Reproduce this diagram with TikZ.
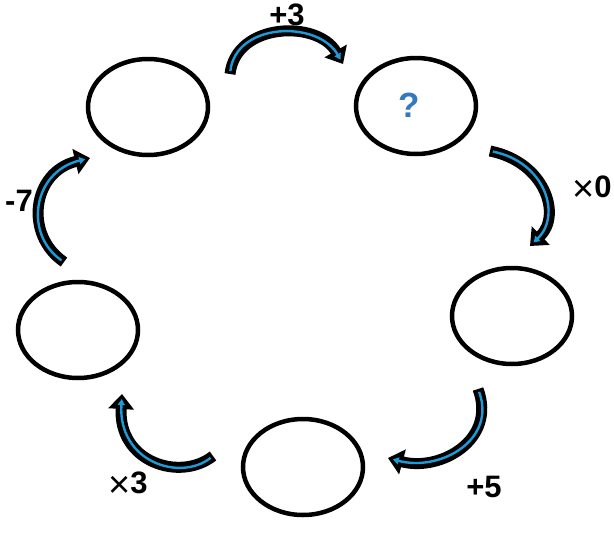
\documentclass[tikz,border=0pt]{standalone}
\usepackage{fontspec}
\setmainfont{Liberation Sans}
\usetikzlibrary{shapes.geometric,arrows.meta}
\definecolor{arrblue}{RGB}{27,155,215}
\definecolor{qblue}{RGB}{52,120,190}
\newcommand{\tms}{\raisebox{-4pt}{\fontsize{38}{40}\fontseries{m}\selectfont ×}}
\tikzset{
  bubble/.style={draw=black,line width=4.5pt,ellipse,minimum width=120pt,minimum height=96pt,inner sep=0pt},
  lbl/.style={font=\fontsize{31}{34}\selectfont\bfseries,inner sep=0pt},
  arrout/.style={draw=black,line width=11pt,-{Triangle[length=15pt,width=25pt]}},
  arrin/.style={draw=arrblue,line width=2.4pt,shorten >=5pt,shorten <=3pt,-{Triangle[length=6pt,width=7pt]}}
}
\begin{document}
\begin{tikzpicture}[x=1pt,y=-1pt]
\useasboundingbox (0,0) rectangle (614,536);
\node[bubble] (c1) at (148,107) {};
\node[bubble] (c2) at (416,106) {};
\node[bubble] (c3) at (512,316) {};
\node[bubble] (c4) at (303,467) {};
\node[bubble] (c5) at (78,330) {};
\node[font=\fontsize{35}{40}\selectfont\bfseries,text=qblue,inner sep=0pt] (q) at (409,105) {?};
% arrow endpoints
\coordinate (a1s) at (230,74); \coordinate (a1e) at (343,64);
\coordinate (a2s) at (490,151); \coordinate (a2e) at (530,246);
\coordinate (a3s) at (478,389); \coordinate (a3e) at (388,458);
\coordinate (a4s) at (213,456); \coordinate (a4e) at (122,394);
\coordinate (a5s) at (64,262); \coordinate (a5e) at (90,158);
\foreach \st in {arrout,arrin}{
  \draw[\st] (a1s) .. controls (236,22) and (318,20) .. (a1e);
  \draw[\st] (a2s) .. controls (545,162) and (562,215) .. (a2e);
  \draw[\st] (a3s) .. controls (497,440) and (440,472) .. (a3e);
  \draw[\st] (a4s) .. controls (180,482) and (118,462) .. (a4e);
  \draw[\st] (a5s) .. controls (24,235) and (32,172) .. (a5e);
}
\node[lbl] (l1) at (287,15) {+3};
\node[lbl] (l2) at (592,189) {\tms0};
\node[lbl] (l3) at (19,201) {-7};
\node[lbl] (l4) at (128,485) {\tms3};
\node[lbl] (l5) at (484,487) {+5};
\end{tikzpicture}
\end{document}
